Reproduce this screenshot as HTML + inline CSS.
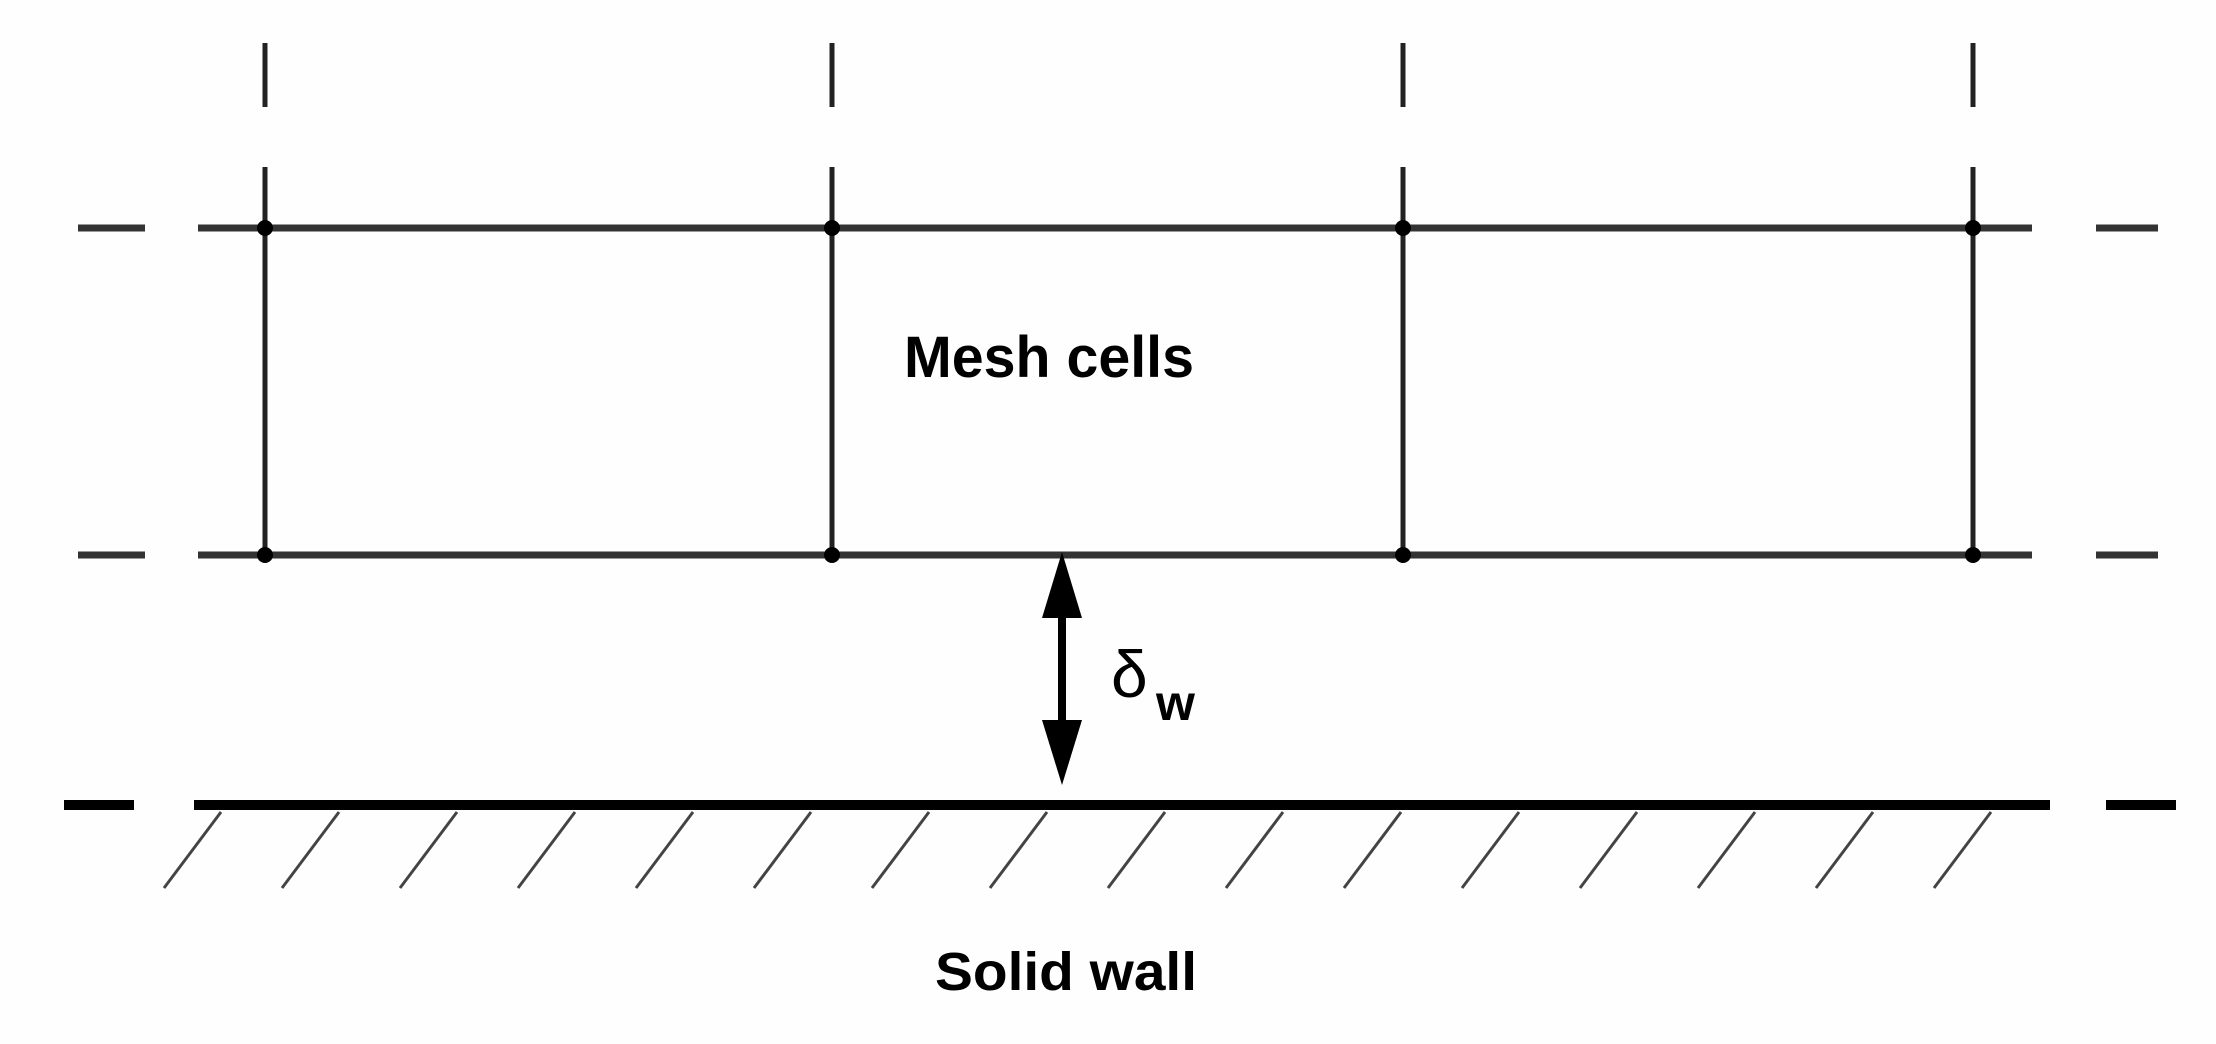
<!DOCTYPE html>
<html><head><style>html,body{margin:0;padding:0;background:#fff;}svg{display:block}</style></head>
<body>
<svg width="2216" height="1044" viewBox="0 0 2216 1044" xmlns="http://www.w3.org/2000/svg">
<rect width="2216" height="1044" fill="#fefefe"/>
<g stroke="#222" stroke-width="5">
  <line x1="265" y1="43" x2="265" y2="107"/><line x1="265" y1="167" x2="265" y2="554"/>
  <line x1="832" y1="43" x2="832" y2="107"/><line x1="832" y1="167" x2="832" y2="554"/>
  <line x1="1403" y1="43" x2="1403" y2="107"/><line x1="1403" y1="167" x2="1403" y2="554"/>
  <line x1="1973" y1="43" x2="1973" y2="107"/><line x1="1973" y1="167" x2="1973" y2="554"/>
</g>
<g stroke="#333" stroke-width="7">
  <line x1="78" y1="228" x2="145" y2="228"/><line x1="198" y1="228" x2="2032" y2="228"/><line x1="2096" y1="228" x2="2158" y2="228"/>
  <line x1="78" y1="555" x2="145" y2="555"/><line x1="198" y1="555" x2="2032" y2="555"/><line x1="2096" y1="555" x2="2158" y2="555"/>
</g>
<g fill="#000">
  <circle cx="265" cy="228" r="8"/><circle cx="832" cy="228" r="8"/><circle cx="1403" cy="228" r="8"/><circle cx="1973" cy="228" r="8"/>
  <circle cx="265" cy="555" r="8"/><circle cx="832" cy="555" r="8"/><circle cx="1403" cy="555" r="8"/><circle cx="1973" cy="555" r="8"/>
</g>
<g stroke="#000" stroke-width="10">
  <line x1="64" y1="805" x2="134" y2="805"/><line x1="194" y1="805" x2="2050" y2="805"/><line x1="2106" y1="805" x2="2176" y2="805"/>
</g>
<g stroke="#444" stroke-width="3">
  <line x1="221" y1="812" x2="164" y2="888"/><line x1="339" y1="812" x2="282" y2="888"/><line x1="457" y1="812" x2="400" y2="888"/><line x1="575" y1="812" x2="518" y2="888"/>
  <line x1="693" y1="812" x2="636" y2="888"/><line x1="811" y1="812" x2="754" y2="888"/><line x1="929" y1="812" x2="872" y2="888"/><line x1="1047" y1="812" x2="990" y2="888"/>
  <line x1="1165" y1="812" x2="1108" y2="888"/><line x1="1283" y1="812" x2="1226" y2="888"/><line x1="1401" y1="812" x2="1344" y2="888"/><line x1="1519" y1="812" x2="1462" y2="888"/>
  <line x1="1637" y1="812" x2="1580" y2="888"/><line x1="1755" y1="812" x2="1698" y2="888"/><line x1="1873" y1="812" x2="1816" y2="888"/><line x1="1991" y1="812" x2="1934" y2="888"/>
</g>
<line x1="1062" y1="600" x2="1062" y2="740" stroke="#000" stroke-width="8"/>
<polygon points="1062,552 1042,618 1082,618" fill="#000"/>
<polygon points="1062,785 1042,720 1082,720" fill="#000"/>
<g font-family="Liberation Sans, sans-serif" font-weight="bold" fill="#000">
  <text x="904" y="377" font-size="58" textLength="290" lengthAdjust="spacingAndGlyphs">Mesh cells</text>
  <text x="935" y="990" font-size="54" textLength="262" lengthAdjust="spacingAndGlyphs">Solid wall</text>
  <text x="1111" y="697" font-size="66" font-weight="normal">δ</text>
  <text x="1156" y="720" font-size="50">w</text>
</g>
</svg>
</body></html>
